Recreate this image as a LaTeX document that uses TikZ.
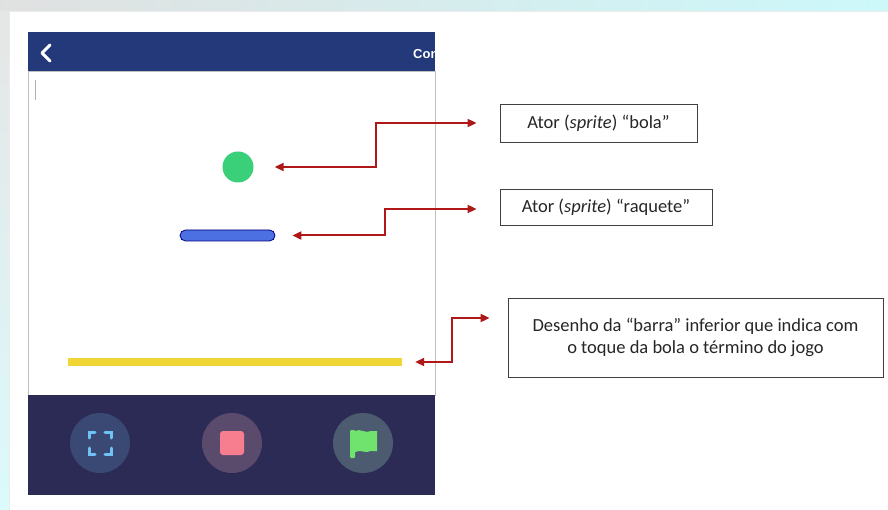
\documentclass[tikz,border=0pt]{standalone}
\usepackage{fontspec}
\setmainfont{Carlito}
\newfontfamily\uifont{Liberation Sans}
\usepackage{xcolor}
\usetikzlibrary{arrows.meta,positioning,calc,shapes.misc}

\definecolor{topbar}{RGB}{36,57,122}
\definecolor{botbar}{RGB}{43,43,86}
\definecolor{ballgreen}{RGB}{58,208,122}
\definecolor{paddleblue}{RGB}{76,112,226}
\definecolor{baryellow}{RGB}{240,214,52}
\definecolor{arrowred}{RGB}{176,24,24}
\definecolor{skycyan}{RGB}{204,248,250}
\definecolor{fullbg}{RGB}{58,73,116}
\definecolor{stopbg}{RGB}{90,75,108}
\definecolor{gobg}{RGB}{76,91,112}
\definecolor{fullicon}{RGB}{112,194,246}
\definecolor{stopicon}{RGB}{246,126,142}
\definecolor{goicon}{RGB}{112,226,110}

\begin{document}
\begin{tikzpicture}[x=1pt, y=-1pt,
    callout/.style={draw=black!75, line width=0.9pt, inner sep=0pt, align=center, text=black!85, font=\fontsize{18.5}{22}\selectfont},
    btn/.style={circle, minimum size=60pt, inner sep=0pt},
    arrow/.style={{Triangle[length=9pt,width=8pt]}-{Triangle[length=9pt,width=8pt]}, line width=2pt, draw=arrowred}
]
    \useasboundingbox (0,0) rectangle (888,510);

    % backdrop and white card
    \shade[left color=black!12, right color=skycyan] (0,0) rectangle (888,510);
    \shade[top color=black!10, bottom color=skycyan!70] (0,12) rectangle (10,510);
    \fill[black!8] (9,11) rectangle (888,510);
    \fill[white] (10,12) rectangle (888,510);

    % phone screen
    \fill[topbar] (28,32) rectangle (435,72);
    \draw[black!25, line width=1pt, fill=white] (28,72) rectangle (435,395);
    \fill[botbar] (28,395) rectangle (435,495);
    \draw[black!30, line width=1pt] (35,80) -- (35,100);

    % top bar contents
    \draw[white, line width=3pt, line cap=round, line join=round] (50,45) -- (42,53) -- (50,61);
    \begin{scope}
        \clip (28,32) rectangle (435,72);
        \node[anchor=west, text=white, font=\uifont\bfseries\fontsize{13}{15}\selectfont, inner sep=0pt] (title) at (413,54) {Con};
    \end{scope}

    % sprites
    \node[circle, fill=ballgreen, minimum size=31pt, inner sep=0pt] (ball) at (238,167) {};
    \node[rounded rectangle, draw=blue!50!black, fill=paddleblue, line width=0.8pt, minimum width=95pt, minimum height=11pt, inner sep=0pt] (paddle) at (227.5,235.5) {};
    \node[rectangle, fill=baryellow, minimum width=334pt, minimum height=8pt, inner sep=0pt] (bar) at (235,362) {};

    % control buttons
    \node[btn, fill=fullbg] (full) at (100,443) {};
    \node[btn, fill=stopbg] (stop) at (232,443) {};
    \node[btn, fill=gobg] (go) at (363,443) {};

    \begin{scope}[shift={(full.center)}, draw=fullicon, line width=3pt, line cap=round]
        \draw (-11,-5) -- (-11,-11) -- (-5,-11);
        \draw (5,-11) -- (11,-11) -- (11,-5);
        \draw (11,5) -- (11,11) -- (5,11);
        \draw (-5,11) -- (-11,11) -- (-11,5);
    \end{scope}
    \fill[stopicon, rounded corners=3pt] ($(stop.center)+(-12,-12)$) rectangle ($(stop.center)+(12,12)$);
    \begin{scope}[shift={(go.center)}, fill=goicon]
        \fill[rounded corners=1pt] (-13,-13) rectangle (-8,15);
        \fill (-8,-12) .. controls (-2,-15) and (2,-9) .. (8,-12) -- (14,-12) -- (14,8) -- (8,8) .. controls (2,11) and (-2,6) .. (-8,9) -- cycle;
    \end{scope}

    % descriptions
    \node[callout, minimum width=197pt, minimum height=38pt] (bola) at (598.5,123) {Ator (\textit{sprite}) “bola”};
    \node[callout, minimum width=212pt, minimum height=36pt] (raquete) at (606,207) {Ator (\textit{sprite}) “raquete”};
    \node[callout, minimum width=375pt, minimum height=79pt] (barra) at (695.5,337.5) {Desenho da “barra” inferior que indica com\\o toque da bola o término do jogo};

    \draw[arrow] ([xshift=21pt]ball.east) -- ++(101,0) |- ([xshift=-23pt]bola.west);
    \draw[arrow] ([xshift=17pt]paddle.east) -- ++(93,0) |- ([xshift=-23pt,yshift=-2pt]raquete.west);
    \draw[arrow] ([xshift=13pt]bar.east) -- ++(37,0) |- ([xshift=-18pt,yshift=19.5pt]barra.west);
\end{tikzpicture}
\end{document}
